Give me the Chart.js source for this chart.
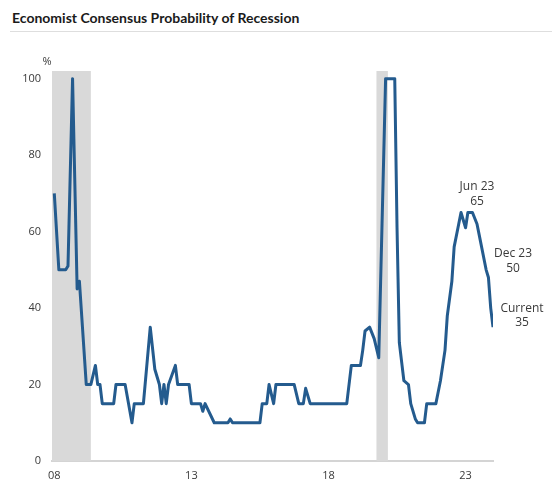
<!DOCTYPE html>
<html>
<head>
<meta charset="utf-8">
<script src="https://cdn.jsdelivr.net/npm/chart.js@4"></script>
<style>
    body { margin: 0; background: #fff; }
    #wrap { position: relative; width: 552px; height: 485px; }
    #title { position: absolute; left: 12px; top: 9px; font: bold 14px Lato, sans-serif; color: #1a1a1a; white-space: nowrap; }
    #rule { position: absolute; left: 10px; right: 0; top: 31px; height: 1px; background: #dedede; }
    canvas { position: absolute; left: 0; top: 0; }
</style>
</head>
<body>
<div id="wrap">
    <div id="title">Economist Consensus Probability of Recession</div>
    <div id="rule"></div>
    <canvas id="myChart" width="552" height="485"></canvas>
</div>
<script>
// survey readings (vertices of the line), month as "YYYY-MM"
let months = [
    "2008-01", "2008-03", "2008-06", "2008-07", "2008-09", "2008-11", "2008-12",
    "2009-03", "2009-05", "2009-07", "2009-08", "2009-09", "2009-10",
    "2010-03", "2010-04", "2010-08", "2010-11", "2010-12",
    "2011-04", "2011-07", "2011-09", "2011-11", "2011-12",
    "2012-01", "2012-02", "2012-03", "2012-06", "2012-07", "2012-12",
    "2013-01", "2013-05", "2013-06", "2013-07", "2013-11",
    "2014-05", "2014-06", "2014-07",
    "2015-07", "2015-08", "2015-10", "2015-11",
    "2016-01", "2016-02", "2016-10", "2016-12",
    "2017-02", "2017-03", "2017-05",
    "2018-09", "2018-11",
    "2019-03", "2019-04", "2019-05", "2019-07", "2019-09", "2019-11",
    "2020-02", "2020-06", "2020-07", "2020-08", "2020-09", "2020-10", "2020-12",
    "2021-01", "2021-03", "2021-04", "2021-07", "2021-08", "2021-12",
    "2022-02", "2022-04", "2022-05", "2022-07", "2022-08", "2022-10", "2022-11",
    "2023-01", "2023-02", "2023-04", "2023-06", "2023-07", "2023-10", "2023-11", "2023-12",
    "2024-01"
];
let probability = [
    70, 50, 50, 51, 100, 45, 47,
    20, 20, 25, 20, 20, 15,
    15, 20, 20, 10, 15,
    15, 35, 24, 20, 15,
    20, 15, 20, 25, 20, 20,
    15, 15, 13, 15, 10,
    10, 11, 10,
    10, 15, 15, 20,
    15, 20, 20, 15,
    15, 19, 15,
    15, 25,
    25, 29, 34, 35, 32, 27,
    100, 100, 61, 31, 26, 21, 20,
    15, 11, 10, 10, 15, 15,
    21, 29, 38, 47, 56, 62, 65,
    61, 65, 65, 62, 59, 50, 48, 40,
    35
];

let recessionStart = ["2007-12", "2019-10"];
let recessionEnd = ["2009-05", "2020-03"];

let xTickDates = ["2008-01", "2013-01", "2018-01", "2023-01"];
let xTickLabels = ["08", "13", "18", "23"];
let yTicks = [0, 20, 40, 60, 80, 100];

let noteLabels = ["Jun 23", "Dec 23", "Current"];
let noteValues = [65, 50, 35];

function monthIndex(s) {
    let parts = s.split("-");
    return (parseInt(parts[0]) - 2008) * 12 + parseInt(parts[1]) - 1;
}

let points = [];
for (let i = 0; i < months.length; i++) {
    points.push({ x: monthIndex(months[i]), y: probability[i] });
}

let textColor = "#3a3a3a";
let tickFont = { family: "'Open Sans', sans-serif", size: 11 };

let recessionBands = {
    id: "recessionBands",
    beforeDatasetsDraw(chart) {
        let ctx = chart.ctx;
        let area = chart.chartArea;
        let x = chart.scales.x;
        ctx.save();
        ctx.fillStyle = "#d9d9d9";
        for (let i = 0; i < recessionStart.length; i++) {
            let x1 = x.getPixelForValue(monthIndex(recessionStart[i]));
            let x2 = x.getPixelForValue(monthIndex(recessionEnd[i]));
            ctx.fillRect(x1, area.top, x2 - x1, area.bottom - area.top);
        }
        ctx.restore();
    }
};

let notes = {
    id: "notes",
    afterDraw(chart) {
        let ctx = chart.ctx;
        let x = chart.scales.x;
        let y = chart.scales.y;
        let xEnd = x.getPixelForValue(points[points.length - 1].x);
        ctx.save();
        ctx.fillStyle = textColor;
        ctx.font = "12px 'Open Sans', sans-serif";
        ctx.textAlign = "center";
        ctx.textBaseline = "middle";

        // Jun 23 sits above its own month, the others to the right of the line end
        let cx = [x.getPixelForValue(monthIndex("2023-06")), xEnd + 20, xEnd + 29];
        let up = [26, 16, 19];
        let down = [11, 1, 5];
        for (let i = 0; i < noteLabels.length; i++) {
            let py = y.getPixelForValue(noteValues[i]);
            ctx.fillText(noteLabels[i], cx[i], py - up[i]);
            ctx.fillText(String(noteValues[i]), cx[i], py - down[i]);
        }

        ctx.font = "11px 'Open Sans', sans-serif";
        ctx.fillText("%", 47, 62);
        ctx.restore();
    }
};

let grafic = new Chart(document.getElementById("myChart"), {
    type: "line",
    data: {
        datasets: [{
            data: points,
            borderColor: "#245b8e",
            borderWidth: 3,
            borderJoinStyle: "round",
            pointRadius: 0,
            tension: 0
        }]
    },
    options: {
        responsive: false,
        animation: false,
        devicePixelRatio: 1,
        layout: { padding: { top: 71, right: 59, bottom: 0, left: 0 } },
        plugins: {
            legend: { display: false },
            tooltip: { enabled: false }
        },
        scales: {
            x: {
                type: "linear",
                min: monthIndex("2007-12"),
                max: monthIndex("2024-01"),
                grid: { display: false, drawTicks: false },
                border: { display: true, color: "#d4d4d4", width: 2 },
                afterBuildTicks: function (axis) {
                    axis.ticks = xTickDates.map(function (d) { return { value: monthIndex(d) }; });
                },
                afterFit: function (axis) { axis.height = 24; },
                ticks: {
                    padding: 8,
                    maxRotation: 0,
                    autoSkip: false,
                    font: tickFont,
                    color: textColor,
                    callback: function (value, index) { return xTickLabels[index]; }
                }
            },
            y: {
                min: 0,
                max: 102,
                grid: { display: false, drawTicks: false },
                border: { display: false },
                afterBuildTicks: function (axis) {
                    axis.ticks = yTicks.map(function (v) { return { value: v }; });
                },
                afterFit: function (axis) { axis.width = 52; },
                ticks: { padding: 11, font: tickFont, color: textColor }
            }
        }
    },
    plugins: [recessionBands, notes]
});
</script>
</body>
</html>
